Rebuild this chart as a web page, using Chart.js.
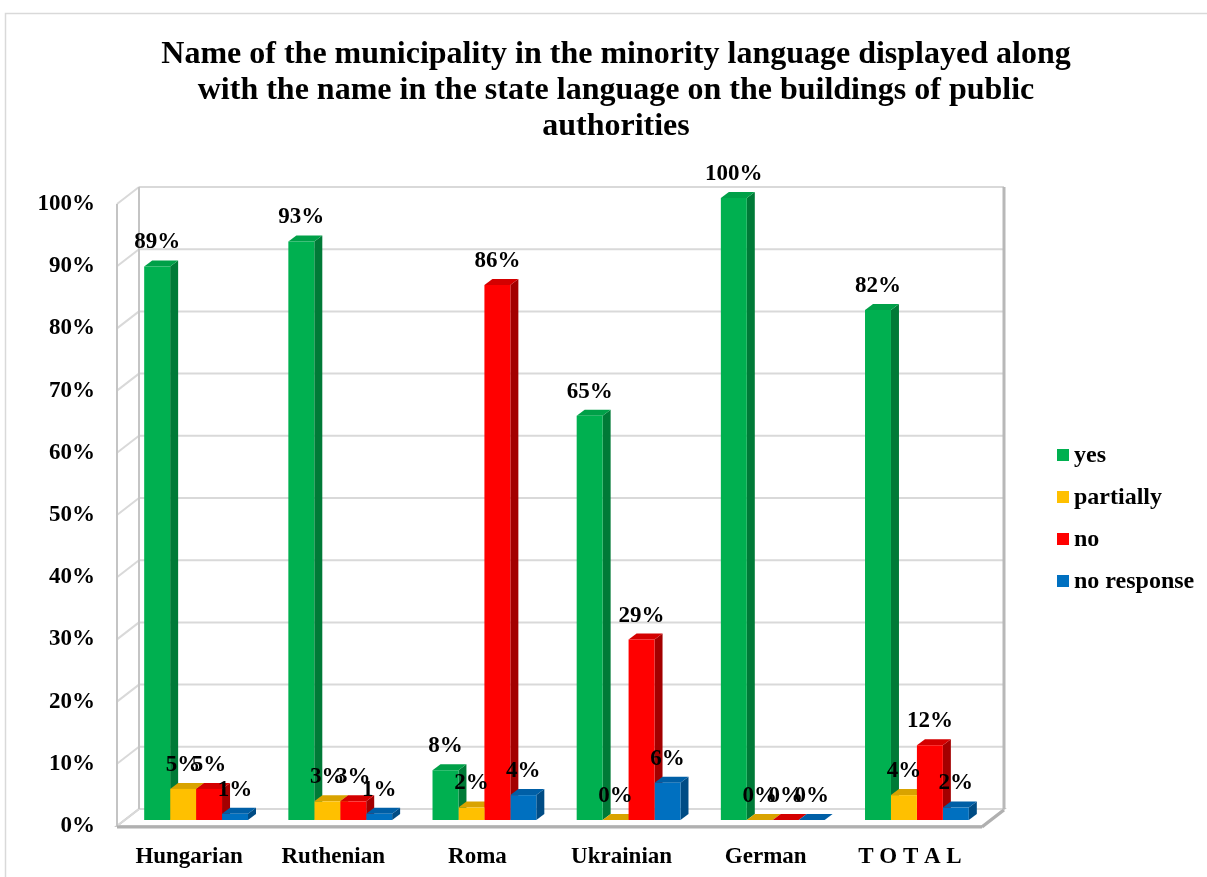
<!DOCTYPE html>
<html>
<head>
<meta charset="utf-8">
<title>Municipality names in minority languages</title>
<script src="https://cdn.jsdelivr.net/npm/chart.js@4.4.0/dist/chart.umd.min.js"></script>
<style>
	body { margin: 0; background: #ffffff; }
	#holder { width: 1207px; height: 877px; position: relative; }
</style>
</head>
<body>
<div id="holder"><canvas id="municipalityChart"></canvas></div>
<script>

var titleLines = [
	"Name of the municipality in the minority language displayed along",
	"with the name in the state language on the buildings of public",
	"authorities"
];
var categories = ["Hungarian", "Ruthenian", "Roma", "Ukrainian", "German", "T O T A L"];
var seriesNames = ["yes", "partially", "no", "no response"];
var yesValues = [89, 93, 8, 65, 100, 82];
var partiallyValues = [5, 3, 2, 0, 0, 4];
var noValues = [5, 3, 86, 29, 0, 12];
var noResponseValues = [1, 1, 4, 6, 0, 2];

var frontCols = ["#00B050", "#FFC000", "#FF0000", "#0070C0"];
var topCols = ["#00A048", "#D9A300", "#D40000", "#005FA6"];
var sideCols = ["#007A37", "#B38600", "#A30000", "#004C85"];

var fontName = "'Liberation Serif', 'Times New Roman', serif";

// depth of the bars and of the walls, in pixels
var barDx = 8, barDy = -6;
var frontDx = -7, frontDy = 6;
var backDx = 15, backDy = -11;

function drawLine(ctx, x1, y1, x2, y2)
{
	ctx.beginPath();
	ctx.moveTo(x1, y1);
	ctx.lineTo(x2, y2);
	ctx.stroke();
}

function fillPoly(ctx, pts, col)
{
	ctx.beginPath();
	ctx.moveTo(pts[0][0], pts[0][1]);
	for (var i = 1; i < pts.length; i++)
	{
		ctx.lineTo(pts[i][0], pts[i][1]);
	}
	ctx.closePath();
	ctx.fillStyle = col;
	ctx.fill();
}

var boxPlugin = {
	id: "box3d",
	beforeDraw: function(chart)
	{
		var ctx = chart.ctx;
		ctx.save();
		ctx.strokeStyle = "#d9d9d9";
		ctx.lineWidth = 1.5;
		ctx.strokeRect(5.5, 13.5, 1400, 1000);
		ctx.restore();
	},
	beforeDatasetsDraw: function(chart)
	{
		var ctx = chart.ctx;
		var area = chart.chartArea;
		var y = chart.scales.y;
		var zero = y.getPixelForValue(0);
		var fl = area.left + frontDx, fr = area.right + frontDx;
		var bl = area.left + backDx, br = area.right + backDx;
		ctx.save();

		// floor
		ctx.strokeStyle = "#c8c8c8";
		ctx.lineWidth = 2;
		ctx.beginPath();
		ctx.moveTo(fl, zero + frontDy);
		ctx.lineTo(fr, zero + frontDy);
		ctx.lineTo(br, zero + backDy);
		ctx.lineTo(bl, zero + backDy);
		ctx.closePath();
		ctx.stroke();

		// back wall and left wall grid
		for (var v = 0; v <= 100; v += 10)
		{
			var p = y.getPixelForValue(v);
			ctx.strokeStyle = "#d9d9d9";
			ctx.lineWidth = 2;
			drawLine(ctx, bl, p + backDy, br, p + backDy);
			drawLine(ctx, fl, p + frontDy, bl, p + backDy);
		}
		var top = y.getPixelForValue(100);
		ctx.strokeStyle = "#c4c4c4";
		ctx.lineWidth = 2;
		drawLine(ctx, fl, top + frontDy, fl, zero + frontDy);
		drawLine(ctx, bl, top + backDy, bl, zero + backDy);
		ctx.strokeStyle = "#b8b8b8";
		ctx.lineWidth = 3;
		drawLine(ctx, br, top + backDy, br, zero + backDy);
		ctx.strokeStyle = "#b0b0b0";
		ctx.lineWidth = 3;
		drawLine(ctx, fl, zero + frontDy + 1, fr, zero + frontDy + 1);
		drawLine(ctx, fr, zero + frontDy + 1, br, zero + backDy + 1);

		// sides and tops of the bars, left to right inside each group
		for (var c = 0; c < categories.length; c++)
		{
			for (var d = 0; d < chart.data.datasets.length; d++)
			{
				var bar = chart.getDatasetMeta(d).data[c];
				var b = bar.getProps(["x", "y", "base", "width"], true);
				var l = b.x - b.width / 2, r = b.x + b.width / 2;
				fillPoly(ctx, [[r, b.y], [r + barDx, b.y + barDy], [r + barDx, b.base + barDy], [r, b.base]], sideCols[d]);
				fillPoly(ctx, [[l, b.y], [l + barDx, b.y + barDy], [r + barDx, b.y + barDy], [r, b.y]], topCols[d]);
			}
		}
		ctx.restore();
	},
	afterDatasetsDraw: function(chart)
	{
		var ctx = chart.ctx;
		ctx.save();
		ctx.font = "bold 23px " + fontName;
		ctx.fillStyle = "#000000";
		ctx.textAlign = "center";
		ctx.textBaseline = "middle";
		for (var d = 0; d < chart.data.datasets.length; d++)
		{
			var meta = chart.getDatasetMeta(d);
			for (var i = 0; i < meta.data.length; i++)
			{
				var b = meta.data[i].getProps(["x", "y"], true);
				ctx.fillText(chart.data.datasets[d].data[i] + "%", b.x, b.y - 24);
			}
		}
		ctx.restore();
	},
	afterDraw: function(chart)
	{
		var ctx = chart.ctx;
		ctx.save();
		ctx.fillStyle = "#000000";
		ctx.textAlign = "center";
		ctx.textBaseline = "middle";
		ctx.font = "bold 32px " + fontName;
		for (var i = 0; i < titleLines.length; i++)
		{
			ctx.fillText(titleLines[i], 616, 55 + i * 36);
		}

		// legend
		ctx.textAlign = "left";
		ctx.font = "bold 24px " + fontName;
		for (var d = 0; d < chart.data.datasets.length; d++)
		{
			var ly = 456 + d * 42;
			ctx.fillStyle = frontCols[d];
			ctx.fillRect(1057, ly - 7, 12, 12);
			ctx.fillStyle = "#000000";
			ctx.fillText(chart.data.datasets[d].label, 1074, ly);
		}
		ctx.restore();
	}
};

var allValues = [yesValues, partiallyValues, noValues, noResponseValues];
var sets = [];
for (var i = 0; i < seriesNames.length; i++)
{
	sets.push({
		label: seriesNames[i],
		data: allValues[i],
		backgroundColor: frontCols[i],
		borderWidth: 0,
		categoryPercentage: 0.72,
		barPercentage: 1.0
	});
}

new Chart("municipalityChart", {
	type: "bar",
	data: {
		labels: categories,
		datasets: sets
	},
	options: {
		responsive: true,
		maintainAspectRatio: false,
		animation: false,
		layout: {
			padding: { left: 0, top: 198, right: 218, bottom: 0 }
		},
		plugins: {
			legend: { display: false },
			title: { display: false },
			tooltip: { enabled: false }
		},
		scales: {
			x: {
				grid: { display: false, drawTicks: false },
				border: { display: false },
				afterFit: function(scale) { scale.height = 57; },
				ticks: {
					color: "#000000",
					font: { family: fontName, size: 23, weight: "bold" },
					padding: 23,
					labelOffset: -7,
					maxRotation: 0,
					autoSkip: false
				}
			},
			y: {
				min: 0,
				max: 100,
				grid: { display: false, drawTicks: false },
				border: { display: false },
				afterFit: function(scale) { scale.width = 124; },
				ticks: {
					stepSize: 10,
					color: "#000000",
					font: { family: fontName, size: 23, weight: "bold" },
					padding: 29,
					labelOffset: 6,
					callback: function(v) { return v + "%"; }
				}
			}
		}
	},
	plugins: [boxPlugin]
});
</script>
</body>
</html>
